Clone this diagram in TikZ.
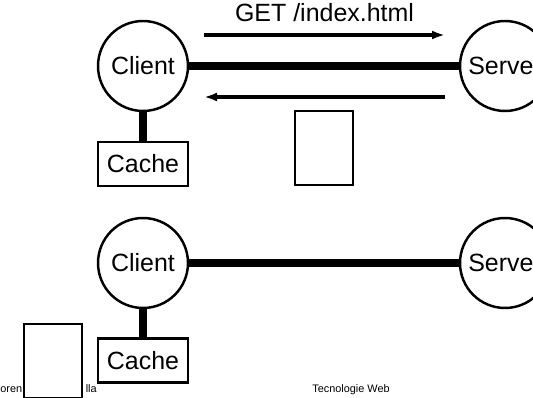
\documentclass[tikz,border=0pt]{standalone}
\usepackage{fontspec}
\setmainfont{Liberation Sans}
\usetikzlibrary{arrows.meta,positioning}

\begin{document}
\begin{tikzpicture}[x=0.02cm,y=-0.02cm,
  host/.style={draw,circle,line width=1.4pt,minimum size=1.8cm,inner sep=0pt,font=\fontsize{14.2}{16}\selectfont},
  cachebox/.style={draw,line width=1.4pt,minimum width=1.8cm,minimum height=0.88cm,inner sep=0pt,fill=white,font=\fontsize{14.2}{16}\selectfont},
  docbox/.style={draw,line width=1.4pt,minimum width=1.16cm,minimum height=1.48cm,fill=white},
  link/.style={line width=4.5pt},
  msg/.style={line width=2.1pt,-{Latex[length=2.6mm,width=1.8mm]}},
  foot/.style={font=\fontsize{6.2}{7}\selectfont,inner sep=0pt},
]
  \useasboundingbox (0,0) rectangle (533,398);
  \clip (0,0) rectangle (533,398);

  % request with cache in the way
  \node[host] (client1) at (143,66) {Client};
  \node[host] (server1) at (505,66) {Server};
  \node[cachebox] (cache1) at (143,164) {Cache};
  \draw[link] (client1) -- (server1);
  \draw[link] (client1) -- (cache1);
  \coordinate (get1a) at (204,35);
  \coordinate (get1b) at (445,35);
  \coordinate (res1a) at (445,97);
  \coordinate (res1b) at (204,97);
  \draw[msg] (get1a) -- (get1b) node[midway,above=3pt,font=\fontsize{14.2}{16}\selectfont] {GET /index.html};
  \draw[msg] (res1a) -- (res1b);
  \node[docbox] (doc1) at (324,148) {};

  % footer
  \node[foot,anchor=base west] (auth) at (-6,392) {Loren};
  \node[foot,anchor=base east] (autb) at (97,392) {lla};
  \node[foot,anchor=base] (course) at (351,392) {Tecnologie Web};

  % page kept in the cache
  \node[host] (client2) at (143,263) {Client};
  \node[host] (server2) at (505,263) {Server};
  \node[cachebox] (cache2) at (143,360.5) {Cache};
  \draw[link] (client2) -- (server2);
  \draw[link] (client2) -- (cache2);
  \node[docbox] (doc2) at (53,361) {};
\end{tikzpicture}
\end{document}
